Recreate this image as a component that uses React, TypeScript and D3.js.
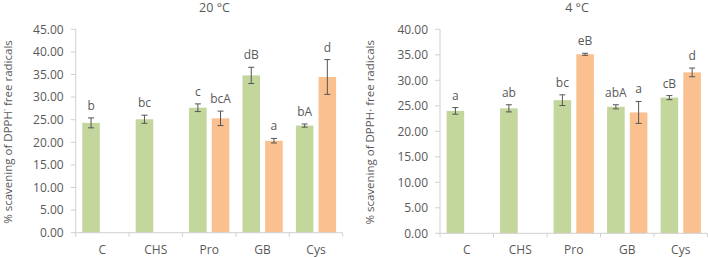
import React from 'react';
import * as d3 from 'd3';

const categories = ['C', 'CHS', 'Pro', 'GB', 'Cys'];
const seriesKeys = ['green', 'orange'];

const t20Green = [24.3, 25.1, 27.65, 34.8, 23.7];
const t20GreenErr = [1.1, 0.9, 0.85, 1.8, 0.35];
const t20GreenLabels = ['b', 'bc', 'c', 'dB', 'bA'];
const t20Orange = [null, null, 25.3, 20.35, 34.45];
const t20OrangeErr = [null, null, 1.6, 0.5, 3.85];
const t20OrangeLabels = [null, null, 'bcA', 'a', 'd'];
const t20Ticks = [0, 5, 10, 15, 20, 25, 30, 35, 40, 45];

const t4Green = [24.0, 24.5, 26.1, 24.8, 26.6];
const t4GreenErr = [0.65, 0.7, 1.05, 0.4, 0.4];
const t4GreenLabels = ['a', 'ab', 'bc', 'abA', 'cB'];
const t4Orange = [null, null, 35.1, 23.7, 31.55];
const t4OrangeErr = [null, null, 0.2, 2.15, 0.85];
const t4OrangeLabels = [null, null, 'eB', 'a', 'd'];
const t4Ticks = [0, 5, 10, 15, 20, 25, 30, 35, 40];

const COLORS: Record<string, string> = { green: '#c3d69b', orange: '#fac090' };
const TEXT = '#595959';
const AXIS = '#d0d0d0';
const ERR = '#555555';
const FONT = '"Open Sans", sans-serif';

type Series = { key: string; values: (number | null)[]; errs: (number | null)[]; labels: (string | null)[] };

function Panel(props: {
  title: string; yTitle: string; ticks: number[]; series: Series[];
  x0: number; x1: number; y0: number; y1: number; titleX: number; yTitleX: number;
}) {
  const { title, yTitle, ticks, series, x0, x1, y0, y1, titleX, yTitleX } = props;
  const yMax = ticks[ticks.length - 1];
  const y = d3.scaleLinear().domain([0, yMax]).range([y1, y0]);
  const x = d3.scaleBand<string>().domain(categories).range([x0, x1]).paddingInner(0).paddingOuter(0);
  const xs = d3.scaleBand<string>().domain(seriesKeys).range([0, x.bandwidth()]).paddingInner(0.226).paddingOuter(0.29);
  const bw = xs.bandwidth();
  return (
    <g>
      <text x={titleX} y={11.5} textAnchor="middle" fontSize={12.5} fill={TEXT} fontFamily={FONT}>{title}</text>
      <text transform={`translate(${yTitleX},${(y0 + y1) / 2 + 1}) rotate(-90)`} textAnchor="middle" dominantBaseline="central"
        fontSize={11.5} fill={TEXT} fontFamily={FONT}>{yTitle}</text>
      {/* y axis */}
      <line x1={x0} x2={x0} y1={y0} y2={y1} stroke={AXIS} />
      {ticks.map(t => (
        <g key={t}>
          <line x1={x0 - 5} x2={x0} y1={y(t)} y2={y(t)} stroke={AXIS} />
          <text x={x0 - 12} y={y(t)} dy="0.35em" textAnchor="end" fontSize={12} fill={TEXT} fontFamily={FONT}>{t.toFixed(2)}</text>
        </g>
      ))}
      {/* bars */}
      {series.map(s => categories.map((c, i) => {
        const v = s.values[i];
        if (v == null) return null;
        const bx = (x(c) as number) + (xs(s.key) as number);
        const e = s.errs[i] as number;
        const cx = bx + bw / 2;
        const lab = s.labels[i];
        return (
          <g key={s.key + c}>
            <rect x={bx} y={y(v)} width={bw} height={y(0) - y(v)} fill={COLORS[s.key]} />
            <line x1={cx} x2={cx} y1={y(v + e)} y2={y(v - e)} stroke={ERR} strokeWidth={1} />
            <line x1={cx - 3} x2={cx + 3} y1={y(v + e)} y2={y(v + e)} stroke={ERR} strokeWidth={1} />
            <line x1={cx - 3} x2={cx + 3} y1={y(v - e)} y2={y(v - e)} stroke={ERR} strokeWidth={1} />
            {lab && <text x={cx} y={y(v + e) - 8} textAnchor="middle" fontSize={12} fill={TEXT} fontFamily={FONT}>{lab}</text>}
          </g>
        );
      }))}
      {/* x axis */}
      <line x1={x0} x2={x1} y1={y1} y2={y1} stroke={AXIS} />
      {[...categories.map(c => x(c) as number), x1].map((p, i) => (
        <line key={i} x1={p} x2={p} y1={y1} y2={y1 + 4} stroke={AXIS} />
      ))}
      {categories.map(c => (
        <text key={c} x={(x(c) as number) + x.bandwidth() / 2} y={254} textAnchor="middle" fontSize={12} fill={TEXT} fontFamily={FONT}>{c}</text>
      ))}
    </g>
  );
}

export default function App() {
  const s20: Series[] = [
    { key: 'green', values: t20Green, errs: t20GreenErr, labels: t20GreenLabels },
    { key: 'orange', values: t20Orange, errs: t20OrangeErr, labels: t20OrangeLabels },
  ];
  const s4: Series[] = [
    { key: 'green', values: t4Green, errs: t4GreenErr, labels: t4GreenLabels },
    { key: 'orange', values: t4Orange, errs: t4OrangeErr, labels: t4OrangeLabels },
  ];
  return (
    <svg width={708} height={257} style={{ position: 'absolute', left: 0, top: 0, background: '#fff' }}>
      <rect width={708} height={257} fill="#fff" />
      <Panel title="20 °C" yTitle="% scavening of DPPH˙ free radicals" ticks={t20Ticks} series={s20}
        x0={75.7} x1={342.7} y0={29.3} y1={232.7} titleX={214.5} yTitleX={7} />
      <Panel title="4 °C" yTitle="% scavening of DPPH· free radicals" ticks={t4Ticks} series={s4}
        x0={440} x1={707.5} y0={29.3} y1={233.3} titleX={577} yTitleX={369} />
    </svg>
  );
}
